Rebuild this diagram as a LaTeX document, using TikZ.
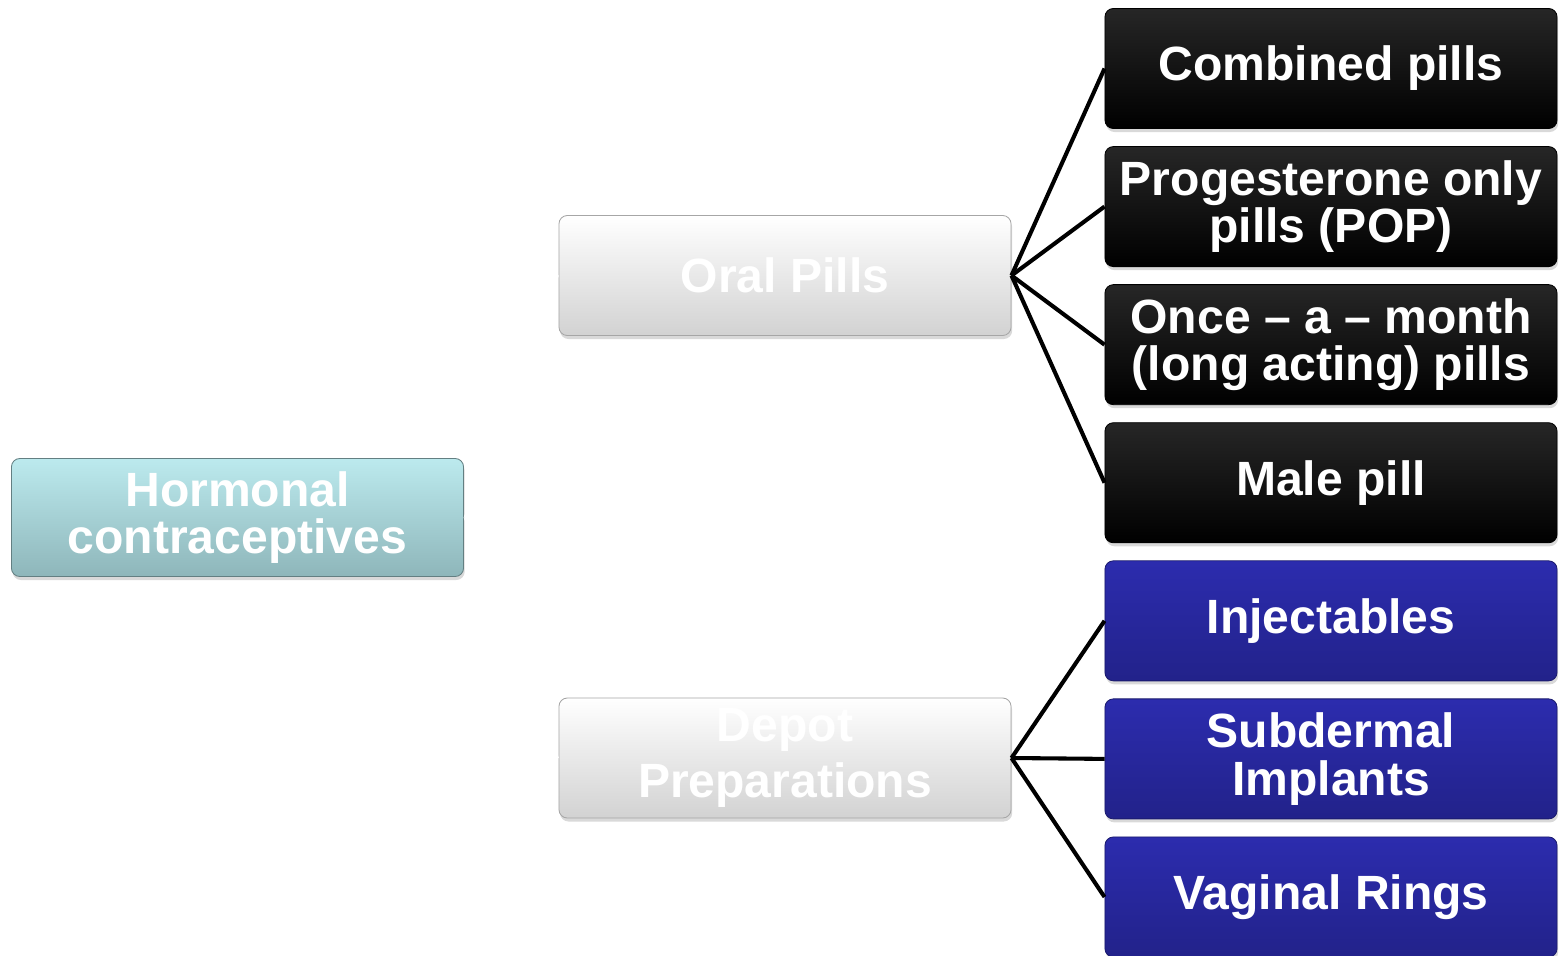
\documentclass[tikz,border=0pt]{standalone}
\usepackage{fontspec}
\setmainfont{Liberation Sans}
\usetikzlibrary{positioning, shadows}

\definecolor{tealtop}{HTML}{BCEAEE}
\definecolor{tealbot}{HTML}{8EB6BA}
\definecolor{greybot}{HTML}{D2D2D2}
\definecolor{bluetop}{HTML}{2C2CAE}
\definecolor{bluebot}{HTML}{22228A}

\begin{document}
\begin{tikzpicture}[
    x=0.025cm, y=-0.025cm,
    box/.style={rectangle, rounded corners=6pt, draw=black!45, line width=0.6pt, minimum width=11.3cm, minimum height=3cm, inner sep=0pt, align=center, text=white, font=\fontsize{34.2}{34}\selectfont\bfseries, drop shadow={shadow xshift=0.8pt, shadow yshift=-2.5pt, opacity=0.3}},
    rootbox/.style={box, top color=tealtop, bottom color=tealbot, draw=tealbot!70!black},
    groupbox/.style={box, top color=white, bottom color=greybot, draw=black!35},
    pillbox/.style={box, top color=black!85, bottom color=black, draw=black},
    depotbox/.style={box, top color=bluetop, bottom color=bluebot, draw=bluebot!80!black},
    link/.style={draw=black, line width=2.9pt}
]
\useasboundingbox (0,0) rectangle (1559,955);

\node[rootbox, minimum height=2.95cm] (horm) at (237.5,517.5) {Hormonal\\contraceptives};

\node[groupbox] (oral) at (785,275.5) {Oral Pills};
\node[groupbox, font=\fontsize{34.2}{40}\selectfont\bfseries] (depot) at (785,758) {Depot\\Preparations};

\node[pillbox] (comb) at (1331,68.5) {Combined pills};
\node[pillbox, below=0.43cm of comb] (pop) {Progesterone only\\pills (POP)};
\node[pillbox, below=0.43cm of pop] (once) {Once -- a -- month\\(long acting) pills};
\node[pillbox, below=0.43cm of once] (male) {Male pill};

\node[depotbox, below=0.43cm of male] (inj) {Injectables};
\node[depotbox, below=0.43cm of inj] (implant) {Subdermal\\Implants};
\node[depotbox, below=0.43cm of implant] (ring) {Vaginal Rings};

% faint links from the root
\draw[white, line width=0.5pt] (horm.east) -- (oral.west);
\draw[white, line width=0.5pt] (horm.east) -- (depot.west);

% oral pills
\draw[link] (oral.east) -- (comb.west);
\draw[link] (oral.east) -- (pop.west);
\draw[link] (oral.east) -- (once.west);
\draw[link] (oral.east) -- (male.west);

% depot preparations
\draw[link] (depot.east) -- (inj.west);
\draw[link] (depot.east) -- (implant.west);
\draw[link] (depot.east) -- (ring.west);
\end{tikzpicture}
\end{document}
